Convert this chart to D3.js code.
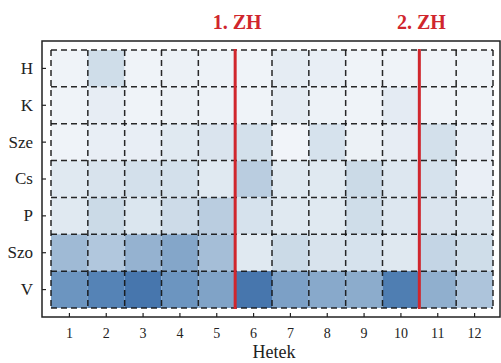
<!DOCTYPE html>
<html>
<head>
<meta charset="utf-8">
<script src="https://cdn.jsdelivr.net/npm/d3@7"></script>
<style>
  body { margin: 0; background: #fff; }
  text { font-family: "Liberation Serif", "DejaVu Serif", serif; }
</style>
</head>
<body>
<div id="chart"></div>
<script>
const weeks = [1, 2, 3, 4, 5, 6, 7, 8, 9, 10, 11, 12];
const days = ['H', 'K', 'Sze', 'Cs', 'P', 'Szo', 'V'];

// intensity per day, one value per week
const valH   = [0.03, 0.22, 0.03, 0.05, 0.04, 0.03, 0.09, 0.07, 0.03, 0.03, 0.03, 0.03];
const valK   = [0.03, 0.08, 0.03, 0.05, 0.04, 0.03, 0.09, 0.04, 0.03, 0.10, 0.03, 0.03];
const valSze = [0.03, 0.07, 0.07, 0.12, 0.16, 0.20, 0.02, 0.18, 0.05, 0.08, 0.20, 0.07];
const valCs  = [0.12, 0.17, 0.20, 0.20, 0.12, 0.32, 0.12, 0.12, 0.24, 0.14, 0.18, 0.06];
const valP   = [0.12, 0.24, 0.15, 0.23, 0.32, 0.18, 0.12, 0.12, 0.22, 0.14, 0.16, 0.14];
const valSzo = [0.45, 0.36, 0.50, 0.58, 0.42, 0.12, 0.24, 0.17, 0.18, 0.13, 0.27, 0.22];
const valV   = [0.70, 0.82, 0.92, 0.70, 0.60, 0.92, 0.62, 0.56, 0.54, 0.86, 0.52, 0.38];
const rows = [valH, valK, valSze, valCs, valP, valSzo, valV];

const exams = [{ at: 5.5, label: '1. ZH' }, { at: 10.5, label: '2. ZH' }];

const width = 501, height = 363;
const svg = d3.select('#chart').append('svg')
  .attr('width', width).attr('height', height);

const x = d3.scaleBand().domain(weeks).range([51, 493]);
const y = d3.scaleBand().domain(days).range([50, 308]);
const xLin = d3.scaleLinear().domain([0.5, 12.5]).range([51, 493]);

const color = d3.scaleLinear()
  .domain([0, 0.2, 0.4, 0.6, 0.8, 1])
  .range(['#f4f6fa', '#d3e0eb', '#a9c1d9', '#80a3c7', '#5886b8', '#3b6ca5'])
  .interpolate(d3.interpolateRgb);

const cells = [];
rows.forEach((vals, i) => vals.forEach((v, j) => cells.push({ day: days[i], week: weeks[j], v })));

svg.append('g').selectAll('rect')
  .data(cells).enter().append('rect')
  .attr('x', d => x(d.week))
  .attr('y', d => y(d.day))
  .attr('width', x.bandwidth())
  .attr('height', y.bandwidth())
  .attr('fill', d => color(d.v));

// dashed cell borders
const grid = svg.append('g')
  .attr('stroke', '#111').attr('stroke-opacity', 0.9)
  .attr('stroke-width', 1.5).attr('stroke-dasharray', '6,4');
d3.range(weeks.length + 1).forEach(i => {
  const gx = xLin(i + 0.5);
  grid.append('line').attr('x1', gx).attr('x2', gx).attr('y1', 50).attr('y2', 308);
});
d3.range(days.length + 1).forEach(i => {
  const gy = 50 + i * y.step();
  grid.append('line').attr('x1', 51).attr('x2', 493).attr('y1', gy).attr('y2', gy);
});

// exam markers
svg.append('g').selectAll('line')
  .data(exams).enter().append('line')
  .attr('x1', d => xLin(d.at)).attr('x2', d => xLin(d.at))
  .attr('y1', 49).attr('y2', 309)
  .attr('stroke', '#d0262d').attr('stroke-width', 3);

svg.append('g').selectAll('text')
  .data(exams).enter().append('text')
  .attr('x', d => xLin(d.at) + 2).attr('y', 29)
  .attr('text-anchor', 'middle')
  .attr('font-size', 20).attr('font-weight', 'bold')
  .attr('fill', '#d0262d')
  .text(d => d.label);

// frame
svg.append('rect')
  .attr('x', 42).attr('y', 41).attr('width', 458).attr('height', 276)
  .attr('fill', 'none').attr('stroke', '#222').attr('stroke-width', 1.5);

// axes with inward ticks
const xAxis = svg.append('g').attr('transform', 'translate(0,317)')
  .call(d3.axisBottom(x).tickSize(-4).tickPadding(11));
const yAxis = svg.append('g').attr('transform', 'translate(42,0)')
  .call(d3.axisLeft(y).tickSize(-4).tickPadding(9));
[xAxis, yAxis].forEach(a => {
  a.select('.domain').remove();
  a.selectAll('.tick line').attr('stroke', '#222').attr('stroke-width', 1.2);
  a.selectAll('text').attr('fill', '#222').attr('font-family', '"Liberation Serif", serif');
});
xAxis.selectAll('text').attr('font-size', 14);
yAxis.selectAll('text').attr('font-size', 17);

svg.append('text')
  .attr('x', (51 + 493) / 2 + 2).attr('y', 358)
  .attr('text-anchor', 'middle').attr('font-size', 18).attr('fill', '#222')
  .text('Hetek');
</script>
</body>
</html>
